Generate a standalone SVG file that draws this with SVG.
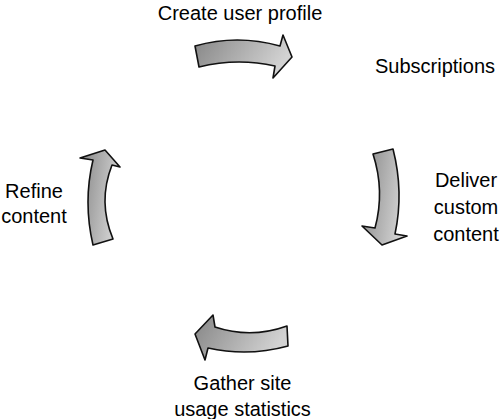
<svg xmlns="http://www.w3.org/2000/svg" width="500" height="419" viewBox="0 0 500 419">
<defs>
<linearGradient id="g" x1="0" y1="0" x2="1" y2="0.3">
<stop offset="0" stop-color="#858585"/>
<stop offset="1" stop-color="#d2d2d2"/>
</linearGradient>
<style>
.arr{fill:url(#g);stroke:#111;stroke-width:1.6;stroke-linejoin:round}
.t{font-family:"Liberation Sans",Arial,sans-serif;font-size:20px;fill:#000}
</style>
</defs>
<rect width="500" height="419" fill="#fff"/>
<g id="connectors">
<path id="arrow-top" class="arr" d="M195,46 Q237,34 280,46 L283,35 L292,57 L273,78 L275,66 Q237,57.5 199,67 Z"/>
<path id="arrow-right" class="arr" d="M373,154 L393,149 Q404,192 395,234 L407,236 L382,245 L362,226 L375,228 Q385,191 373,154 Z"/>
<path id="arrow-bottom" class="arr" d="M287,326 Q251,339 215,327 L213,315 L195,334 L205,360 L208,348 Q248,357 288,346 Z"/>
<path id="arrow-left" class="arr" d="M93,245 L113,239 Q97.5,202 112,165 L120,167 L105,150 L80,158 L93,160 Q83,202 93,245 Z"/>
</g>
<g id="node-create"><text class="t" x="240" y="20" text-anchor="middle">Create user profile</text></g>
<g id="node-subscriptions"><text class="t" x="375" y="73">Subscriptions</text></g>
<g id="node-deliver"><text class="t" text-anchor="middle"><tspan x="466" y="187">Deliver</tspan><tspan x="466" y="214">custom</tspan><tspan x="466" y="241">content</tspan></text></g>
<g id="node-gather"><text class="t" text-anchor="middle"><tspan x="242.5" y="390">Gather site</tspan><tspan x="242.5" y="416">usage statistics</tspan></text></g>
<g id="node-refine"><text class="t" text-anchor="middle"><tspan x="34" y="198">Refine</tspan><tspan x="34" y="223">content</tspan></text></g>
</svg>
